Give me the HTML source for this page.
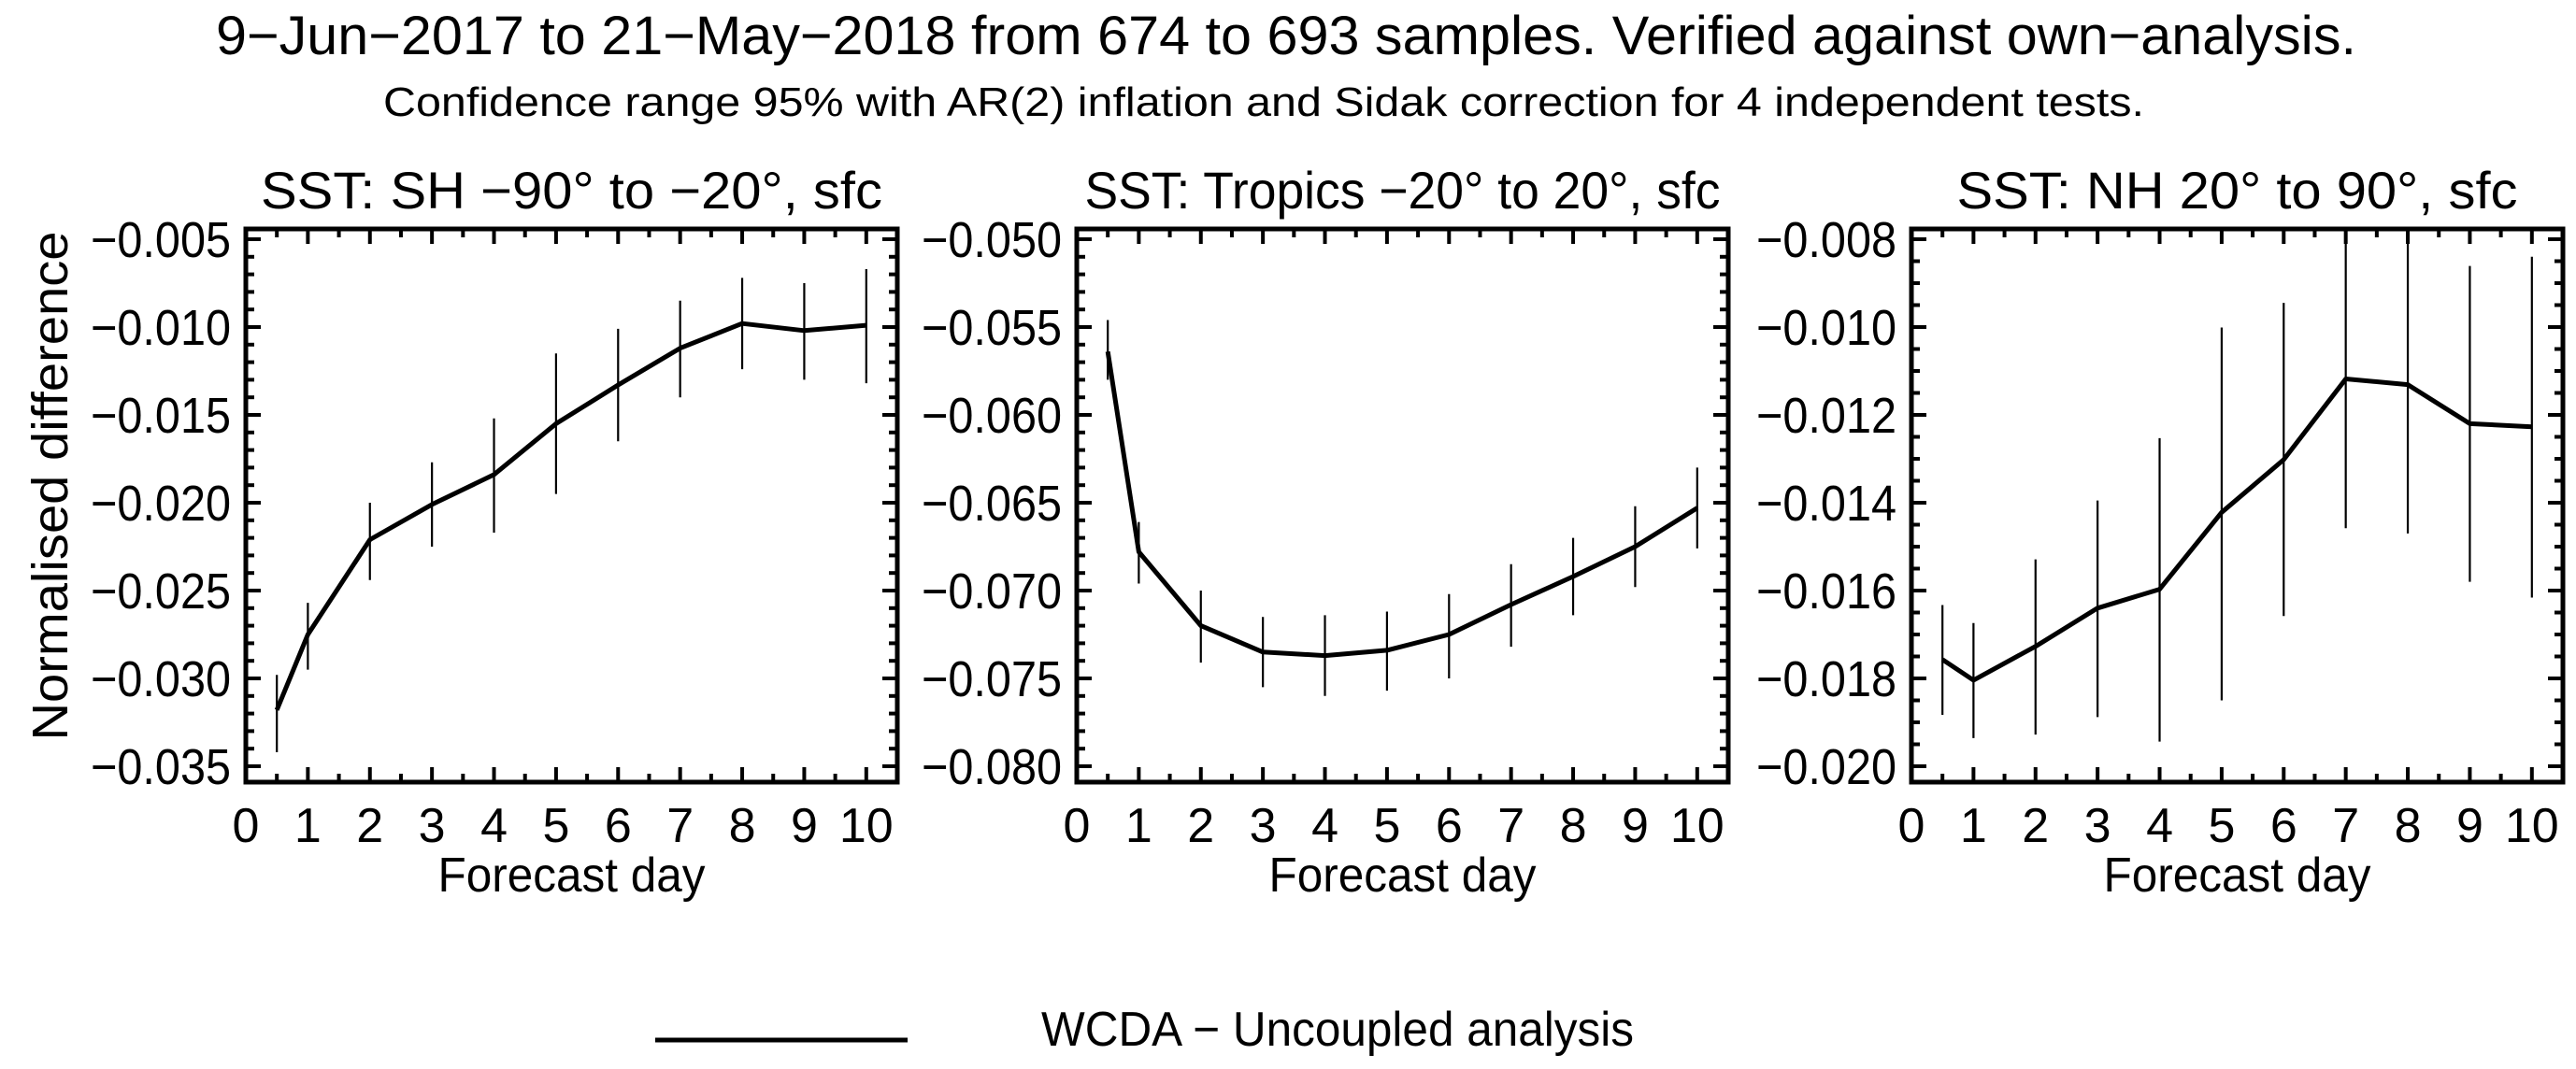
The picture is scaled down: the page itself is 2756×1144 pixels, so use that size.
<!DOCTYPE html>
<html><head><meta charset="utf-8"><style>
html,body{margin:0;padding:0;background:#fff;}
svg{display:block;font-family:"Liberation Sans",sans-serif;}
</style></head><body>
<svg id="chart" width="2756" height="1144" viewBox="0 0 2756 1144" xmlns="http://www.w3.org/2000/svg">
<text x="1376" y="58" font-size="58" text-anchor="middle" textLength="2290" lengthAdjust="spacingAndGlyphs">9−Jun−2017 to 21−May−2018 from 674 to 693 samples. Verified against own−analysis.</text>
<text x="1352" y="124" font-size="44" text-anchor="middle" textLength="1884" lengthAdjust="spacingAndGlyphs">Confidence range 95% with AR(2) inflation and Sidak correction for 4 independent tests.</text>
<text transform="translate(72,520) rotate(-90)" font-size="54" text-anchor="middle" textLength="545" lengthAdjust="spacingAndGlyphs">Normalised difference</text>
<g id="panels"></g>
<line x1="701" y1="1113" x2="971" y2="1113" stroke="#000" stroke-width="5"/>
<text x="1114" y="1119" font-size="52" textLength="634" lengthAdjust="spacingAndGlyphs">WCDA − Uncoupled analysis</text>
</svg>
<script>
const days = [0.5,1,2,3,4,5,6,7,8,9,10];
const xTicks = [0,1,2,3,4,5,6,7,8,9,10];
const shMean = [-0.0318,-0.0275,-0.0221,-0.0201,-0.0184,-0.0155,-0.0133,-0.0112,-0.0098,-0.0102,-0.0099];
const shHi   = [-0.0298,-0.0257,-0.0200,-0.0177,-0.0152,-0.0115,-0.0101,-0.0085,-0.0072,-0.0075,-0.0067];
const shLo   = [-0.0342,-0.0295,-0.0244,-0.0225,-0.0217,-0.0195,-0.0165,-0.0140,-0.0124,-0.0130,-0.0132];
const trMean = [-0.0564,-0.0678,-0.0720,-0.0735,-0.0737,-0.0734,-0.0725,-0.0708,-0.0692,-0.0675,-0.0653];
const trHi   = [-0.0546,-0.0661,-0.0700,-0.0715,-0.0714,-0.0712,-0.0702,-0.0685,-0.0670,-0.0652,-0.0630];
const trLo   = [-0.0580,-0.0696,-0.0741,-0.0755,-0.0760,-0.0757,-0.0750,-0.0732,-0.0714,-0.0698,-0.0676];
const nhMean = [-0.01757,-0.01804,-0.01727,-0.01640,-0.01597,-0.01422,-0.01302,-0.01118,-0.01131,-0.01220,-0.01227];
const nhHi   = [-0.01633,-0.01674,-0.01529,-0.01395,-0.01253,-0.01001,-0.00945,-0.0075,-0.0075,-0.00861,-0.0084];
const nhLo   = [-0.01883,-0.01936,-0.01928,-0.01888,-0.01944,-0.01850,-0.01658,-0.01458,-0.0147,-0.0158,-0.01616];
const shTicks = [-0.005,-0.010,-0.015,-0.020,-0.025,-0.030,-0.035];
const trTicks = [-0.050,-0.055,-0.060,-0.065,-0.070,-0.075,-0.080];
const nhTicks = [-0.008,-0.010,-0.012,-0.014,-0.016,-0.018,-0.020];
const shTitle = "SST: SH −90° to −20°, sfc";
const trTitle = "SST: Tropics −20° to 20°, sfc";
const nhTitle = "SST: NH 20° to 90°, sfc";

const NS = "http://www.w3.org/2000/svg";
const root = document.getElementById('panels');
function mk(tag, attrs, parent){const e=document.createElementNS(NS,tag);for(const k in attrs)e.setAttribute(k,attrs[k]);parent.appendChild(e);return e;}

const T=245, B=837, W=697;
function panel(key, left, title, titleW, mean, hi, lo, ticks, minorStep, decimals){
  const g = mk('g',{},root);
  
  
  const t0=ticks[0], t1=ticks[ticks.length-1];
  const yTop=T+11, yBot=B-17;
  const ys = v => yTop + (t0 - v)/(t0 - t1)*(yBot-yTop);
  const xs = d => left + d/10.5*W;
  const tt = mk('text',{x:left+W/2,y:223,'font-size':56,'text-anchor':'middle',textLength:titleW,lengthAdjust:'spacingAndGlyphs'},g);
  tt.textContent = title;
  
  
  const vTop = t0 + (yTop-T)/(yBot-yTop)*(t0-t1);
  const vBot = t1 - (B-yBot)/(yBot-yTop)*(t0-t1);
  for(let v=t1; v<=vTop+1e-9; v+=minorStep){
    if(v<vBot-1e-9) continue;
    const y=ys(v);
    const isMajor = ticks.some(m=>Math.abs(m-v)<1e-7);
    const L = isMajor?16:9;
    mk('line',{x1:left,y1:y,x2:left+L,y2:y,stroke:'#000','stroke-width':4},g);
    mk('line',{x1:left+W-L,y1:y,x2:left+W,y2:y,stroke:'#000','stroke-width':4},g);
  }
  for(let i=0;i<ticks.length;i++){
    const lb = mk('text',{x:left-16,y:ys(ticks[i])+19,'font-size':54,'text-anchor':'end',textLength:150,lengthAdjust:'spacingAndGlyphs'},g);
    lb.textContent = '−'+Math.abs(ticks[i]).toFixed(decimals);
    
    
  }
  for(let d=0; d<=10.5; d+=0.5){
    const x=xs(d); const L = (d%1===0)?16:9;
    mk('line',{x1:x,y1:B,x2:x,y2:B-L,stroke:'#000','stroke-width':4},g);
    mk('line',{x1:x,y1:T,x2:x,y2:T+L,stroke:'#000','stroke-width':4},g);
  }
  for(let i=0;i<xTicks.length;i++){
    const lb = mk('text',{x:xs(xTicks[i]),y:901,'font-size':52,'text-anchor':'middle'},g);
    lb.textContent = xTicks[i];
    
    
  }
  const xt = mk('text',{x:left+W/2,y:954,'font-size':52,'text-anchor':'middle',textLength:286,lengthAdjust:'spacingAndGlyphs'},g);
  xt.textContent='Forecast day';
  
  
  const cid='clip-'+key;
  const cp=mk('clipPath',{id:cid},g); mk('rect',{x:left,y:T,width:W,height:B-T},cp);
  const dg=mk('g',{'clip-path':'url(#'+cid+')'},g);
  for(let i=0;i<days.length;i++){
    const eb = mk('line',{x1:xs(days[i]),y1:ys(hi[i]),x2:xs(days[i]),y2:ys(lo[i]),stroke:'#000','stroke-width':2.2},dg);
    
    
  }
  const pts = days.map((d,i)=>xs(d).toFixed(1)+','+ys(mean[i]).toFixed(1)).join(' ');
  const pl = mk('polyline',{points:pts,fill:'none',stroke:'#000','stroke-width':5,'stroke-linejoin':'round'},dg);
  
  
  const fr = mk('rect',{x:left,y:T,width:W,height:B-T,fill:'none',stroke:'#000','stroke-width':5},g);
  
  
}
panel('sh',263,shTitle,665,shMean,shHi,shLo,shTicks,0.001,3);
panel('tropics',1152,trTitle,680,trMean,trHi,trLo,trTicks,0.001,3);
panel('nh',2045,nhTitle,600,nhMean,nhHi,nhLo,nhTicks,0.0005,3);
</script>
</body></html>
